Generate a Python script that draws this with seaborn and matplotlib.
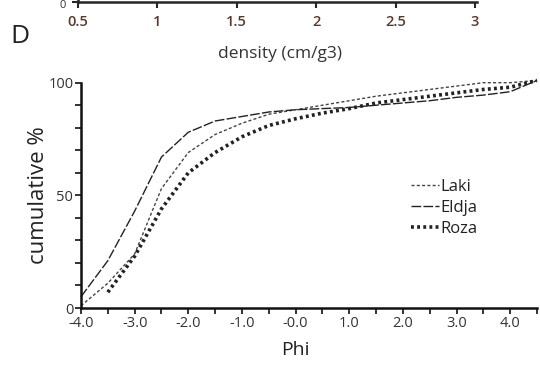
import numpy as np
import pandas as pd
import matplotlib
matplotlib.use("Agg")
import matplotlib.pyplot as plt
import seaborn as sns

# Cumulative grain-size curves
phi = [-4.0, -3.5, -3.0, -2.5, -2.0, -1.5, -1.0, -0.5, 0.0, 0.5, 1.0, 1.5, 2.0, 2.5, 3.0, 3.5, 4.0, 4.5]
laki = [1, 11, 24, 53, 69, 77, 82, 86, 88, 90, 92, 94, 95.5, 97, 98.5, 100, 100, 101]
eldja = [5, 21, 43, 67, 78, 83, 85, 87, 88, 88.5, 89, 90, 91, 92, 93.5, 94.5, 96, 101]
roza_phi = [-3.5, -3.0, -2.5, -2.0, -1.5, -1.0, -0.5, 0.0, 0.5, 1.0, 1.5, 2.0, 2.5, 3.0, 3.5, 4.0, 4.5]
roza = [7, 23, 44, 60, 69, 76, 81, 84, 86.5, 88.5, 91, 92.5, 94, 95.5, 97, 98, 101]

x_ticks = [-4, -3, -2, -1, 0, 1, 2, 3, 4]
x_ticklabels = ["-4.0", "-3.0", "-2.0", "-1.0", "-0.0", "1.0", "2.0", "3.0", "4.0"]
y_ticks = [0, 50, 100]

# bottom axis of the panel above (cut off at the top of the figure)
top_ticks = [0.5, 1, 1.5, 2, 2.5, 3]
top_ticklabels = ["0.5", "1", "1.5", "2", "2.5", "3"]

sns.set_style("ticks")
plt.rcParams["font.family"] = ["Open Sans", "DejaVu Sans"]

fig = plt.figure(figsize=(5.4, 3.71), dpi=100)

# ---- main panel D ----
ax = fig.add_axes([81 / 540, 63 / 371, 456 / 540, 225.3 / 371])

styles = [
    ("Laki", phi, laki, (0, (2.2, 1.6)), 1.0, "#444444"),
    ("Eldja", phi, eldja, (0, (7, 1.6)), 1.0, "#222222"),
    ("Roza", roza_phi, roza, (0, (0.8, 0.9)), 2.6, "#222222"),
]
for name, xs, ys, ls, lw, col in styles:
    df = pd.DataFrame({"phi": xs, "cum": ys})
    sns.lineplot(data=df, x="phi", y="cum", ax=ax, color=col, linewidth=lw,
                 linestyle=ls, label=name, clip_on=False)

ax.set_xlim(-4, 4.5)
ax.set_ylim(0, 100)
ax.set_xticks(x_ticks)
ax.set_xticklabels(x_ticklabels)
ax.set_xticks(np.arange(-3.5, 4.6, 1.0), minor=True)
ax.set_yticks(y_ticks)
ax.set_yticks(np.arange(10, 100, 10), minor=True)
for s in ["top", "right"]:
    ax.spines[s].set_visible(False)
for s in ["left", "bottom"]:
    ax.spines[s].set_linewidth(1.8)
    ax.spines[s].set_color("#111111")
ax.tick_params(which="both", direction="out", length=4, width=1.2, color="#111111",
               labelsize=10.5, labelcolor="#333333", pad=1.5)

ax.set_xlabel("Phi", fontsize=14, color="#222222")
ax.xaxis.set_label_coords(0.47, -0.145)
ax.set_ylabel("cumulative %", fontsize=16, color="#222222")
ax.yaxis.set_label_coords(-0.07, 0.5)

leg = ax.legend(loc="center left", bbox_to_anchor=(0.705, 0.445), frameon=False,
                fontsize=12, handlelength=1.7, handletextpad=0.1, labelspacing=0.3,
                borderpad=0)
for t in leg.get_texts():
    t.set_color("#222222")

# ---- remnant of the panel above ----
axt = fig.add_axes([78 / 540, (371 - 1.5) / 371, 399 / 540, 0.2])
axt.set_xlim(0.5, 3.0126)
axt.set_ylim(0, 1)
axt.set_xticks(top_ticks)
axt.set_xticklabels(top_ticklabels)
axt.set_yticks([0])
axt.set_yticklabels([""])
for s in ["top", "right"]:
    axt.spines[s].set_visible(False)
axt.spines["bottom"].set_linewidth(1.8)
axt.spines["left"].set_linewidth(1.8)
axt.tick_params(axis="x", direction="out", length=4, width=1.5, labelsize=10.5,
                labelcolor="#5a3a2c", pad=6)
axt.tick_params(axis="y", direction="out", length=4, width=1.5)
for t in axt.get_xticklabels():
    t.set_fontweight("semibold")

# y tick label "0" of the panel above, kept inside the figure
fig.text(66 / 540, 1.0, "0", ha="right", va="top", fontsize=8, color="#333333")
fig.text(280 / 540, 1 - 54 / 371, "density (cm/g3)", ha="center", va="center",
         fontsize=12.5, color="#333333")
fig.text(10 / 540, 1 - 43 / 371, "D", ha="left", va="baseline",
         fontsize=19, color="#222222")

fig.savefig("out.png", dpi=100)
